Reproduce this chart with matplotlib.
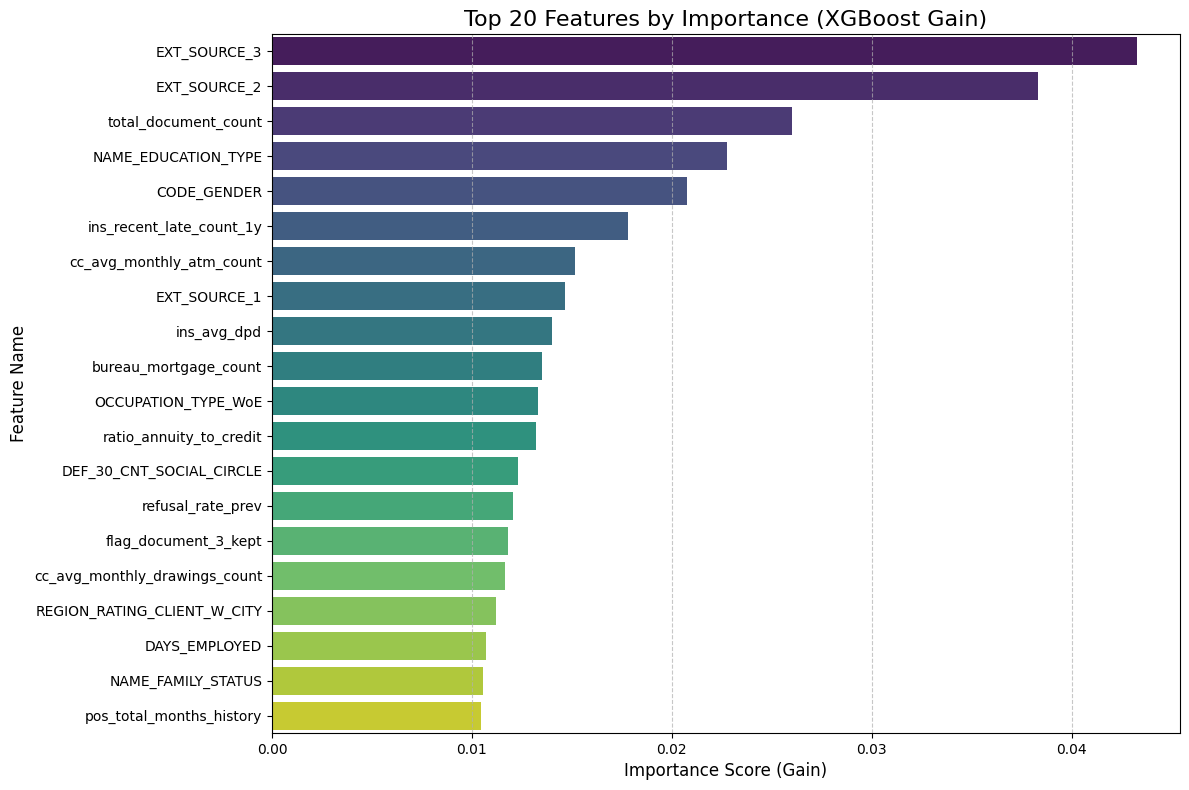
import matplotlib
matplotlib.use('Agg')
import matplotlib.pyplot as plt
import seaborn as sns
import pandas as pd

# Data
features = ['EXT_SOURCE_3', 'EXT_SOURCE_2', 'total_document_count', 'NAME_EDUCATION_TYPE',
            'CODE_GENDER', 'ins_recent_late_count_1y', 'cc_avg_monthly_atm_count', 'EXT_SOURCE_1',
            'ins_avg_dpd', 'bureau_mortgage_count', 'OCCUPATION_TYPE_WoE', 'ratio_annuity_to_credit',
            'DEF_30_CNT_SOCIAL_CIRCLE', 'refusal_rate_prev', 'flag_document_3_kept',
            'cc_avg_monthly_drawings_count', 'REGION_RATING_CLIENT_W_CITY', 'DAYS_EMPLOYED',
            'NAME_FAMILY_STATUS', 'pos_total_months_history']
importance = [0.04325, 0.0383, 0.0260, 0.02275, 0.02075, 0.0178, 0.01515, 0.01465,
              0.0140, 0.0135, 0.0133, 0.0132, 0.0123, 0.01205, 0.0118, 0.01165,
              0.0112, 0.0107, 0.01055, 0.01045]

df = pd.DataFrame({'Feature': features, 'Gain': importance})

fig = plt.figure(figsize=(11.89, 7.9), dpi=100)
ax = sns.barplot(data=df, x='Gain', y='Feature', hue='Feature', palette='viridis', legend=False)

plt.title('Top 20 Features by Importance (XGBoost Gain)', fontsize=16)
plt.xlabel('Importance Score (Gain)', fontsize=12)
plt.ylabel('Feature Name', fontsize=12)
plt.grid(axis='x', linestyle='--', alpha=0.7)

# match the reference frame position
fig.subplots_adjust(left=272/1189, right=1180/1189, top=1 - 34/790, bottom=1 - 733/790)
plt.savefig('out.png', dpi=100)
